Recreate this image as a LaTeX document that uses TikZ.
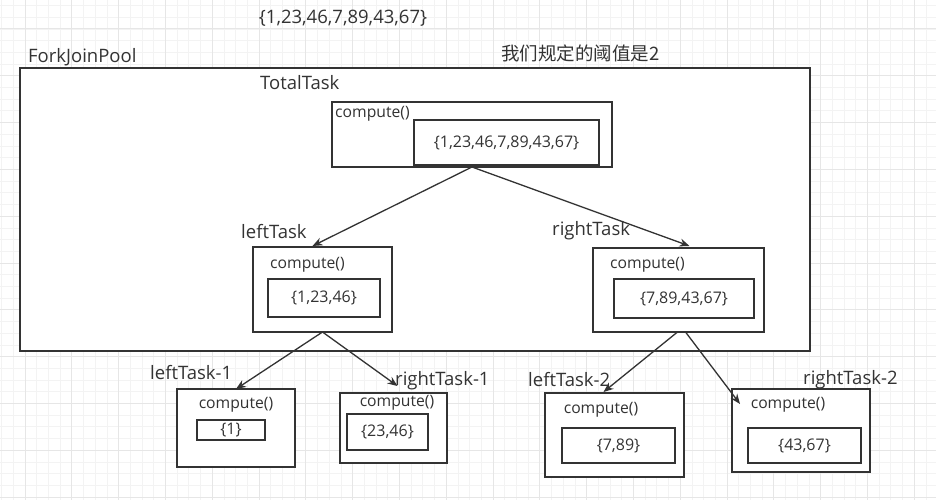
\documentclass[tikz,border=0pt]{standalone}
\usepackage{fontspec}
\setmainfont{Open Sans}
\newfontfamily\cjk{Noto Sans CJK SC}
\usetikzlibrary{arrows.meta,calc}
\definecolor{ink}{HTML}{333333}
\definecolor{gminor}{HTML}{F3F3F3}
\definecolor{gmajor}{HTML}{E6E6E6}
\begin{document}
\begin{tikzpicture}[x=1pt,y=-1pt,
  box/.style={draw=ink,line width=1.3pt,fill=white,inner sep=0pt,outer sep=0pt},
  lbl/.style={text=ink,inner sep=0pt,font=\fontsize{18.5}{20}\selectfont},
  cmp/.style={text=ink,inner sep=0pt,font=\fontsize{15.7}{17}\selectfont},
  num/.style={text=ink,inner sep=0pt,font=\fontsize{16}{18}\selectfont},
  arr/.style={draw=ink,line width=1.3pt,-{Stealth[length=10pt,width=8pt]}}]
\useasboundingbox (0,0) rectangle (936,500);
\fill[white] (0,0) rectangle (936,500);
% grid
\foreach \i in {0,...,80} {
  \draw[gminor,line width=0.8pt] ({1.6+11.7*\i},0) -- ({1.6+11.7*\i},500);
}
\foreach \i in {0,...,43} {
  \draw[gminor,line width=0.8pt] (0,{5.6+11.7*\i}) -- (936,{5.6+11.7*\i});
}
\foreach \i in {0,...,20} {
  \draw[gmajor,line width=1pt] ({25+46.8*\i},0) -- ({25+46.8*\i},500);
}
\foreach \i in {0,...,10} {
  \draw[gmajor,line width=1pt] (0,{29+46.8*\i}) -- (936,{29+46.8*\i});
}
% top labels
\node[lbl] (data) at (343,18) {\{1,23,46,7,89,43,67\}};
\node[lbl,anchor=west] (poollbl) at (28,57) {ForkJoinPool};
\node[lbl,anchor=west] (rule) at (501,53) {\cjk 我们规定的阈值是2};
% pool
\node[box,minimum width=790pt,minimum height=283pt] (pool) at (415,209.5) {};
\node[lbl,anchor=west] (totallbl) at (260,83) {TotalTask};
% total task
\node[box,minimum width=280pt,minimum height=65pt] (total) at (472,134.5) {};
\node[box,minimum width=185pt,minimum height=45pt] (totalin) at (506.5,142.5) {};
\node[cmp,anchor=west] (totalc) at (335,114) {compute()};
\node[num] at (totalin) {\{1,23,46,7,89,43,67\}};
% left task
\node[lbl,anchor=west] (leftlbl) at (241,232) {leftTask};
\node[box,minimum width=139pt,minimum height=85pt] (left) at (322.5,289.5) {};
\node[box,minimum width=112pt,minimum height=38pt] (leftin) at (324,298) {};
\node[cmp,anchor=west] (leftc) at (270,265) {compute()};
\node[num] at (leftin) {\{1,23,46\}};
% right task
\node[lbl,anchor=west] (rightlbl) at (552,231) {rightTask};
\node[box,minimum width=171pt,minimum height=84pt] (right) at (678.5,290) {};
\node[box,minimum width=140pt,minimum height=39pt] (rightin) at (684,298.5) {};
\node[cmp,anchor=west] (rightc) at (610,265) {compute()};
\node[num] at (rightin) {\{7,89,43,67\}};
% leftTask-1
\node[lbl,anchor=west] (lt1lbl) at (150,373) {leftTask-1};
\node[box,minimum width=118pt,minimum height=78pt] (lt1) at (236,428) {};
\node[box,minimum width=68pt,minimum height=20pt] (lt1in) at (231,430) {};
\node[cmp] (lt1c) at (236,405) {compute()};
\node[num] at (lt1in) {\{1\}};
% rightTask-1
\node[box,minimum width=107pt,minimum height=70pt] (rt1) at (393.5,428) {};
\node[box,minimum width=81pt,minimum height=36pt] (rt1in) at (387.5,432) {};
\node[cmp] (rt1c) at (397,403) {compute()};
\node[num] at (rt1in) {\{23,46\}};
\node[lbl,anchor=west] (rt1lbl) at (395,381) {rightTask-1};
% leftTask-2
\node[box,minimum width=139pt,minimum height=84pt] (lt2) at (614.5,435) {};
\node[box,minimum width=113pt,minimum height=35pt] (lt2in) at (618.5,445.5) {};
\node[cmp] (lt2c) at (601,410) {compute()};
\node[num] at (lt2in) {\{7,89\}};
\node[lbl,anchor=west] (lt2lbl) at (528,380) {leftTask-2};
% rightTask-2
\node[lbl,anchor=west] (rt2lbl) at (803,380) {rightTask-2};
\node[box,minimum width=138pt,minimum height=83pt] (rt2) at (801,430.5) {};
\node[box,minimum width=113pt,minimum height=35pt] (rt2in) at (804.5,445.5) {};
\node[cmp] (rt2c) at (788,405) {compute()};
\node[num] at (rt2in) {\{43,67\}};
% arrows
\coordinate (tipL) at ($(left.north)+(-10,-1)$);
\coordinate (tipR) at ($(right.north)+(11,-2)$);
\coordinate (tipRT1) at ($(rt1.north)+(4,-7)$);
\coordinate (tipLT2) at ($(lt2.north)+(-11,-1)$);
\coordinate (tipRT2) at ($(rt2.north west)+(8,15)$);
\draw[arr] (total.south) -- (tipL);
\draw[arr] (total.south) -- (tipR);
\draw[arr] (left.south) -- (lt1.north);
\draw[arr] (left.south) -- (tipRT1);
\draw[arr] ($(right.south)+(-1,0)$) -- (tipLT2);
\draw[arr] ($(right.south)+(7,0)$) -- (tipRT2);
\end{tikzpicture}
\end{document}
